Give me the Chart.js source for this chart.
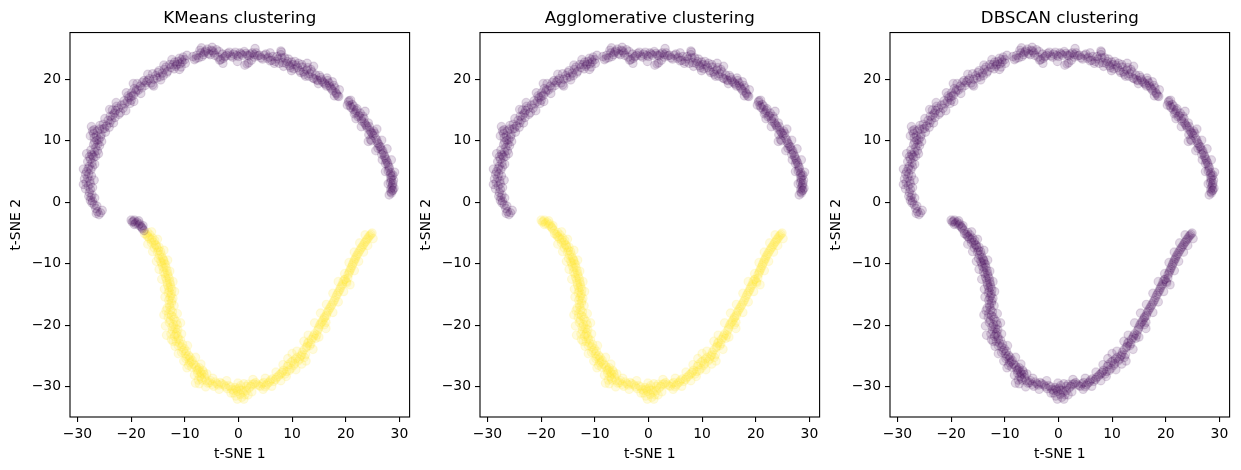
<!DOCTYPE html>
<html>
<head>
<meta charset="utf-8">
<script src="https://cdn.jsdelivr.net/npm/chart.js@4.4.0/dist/chart.umd.min.js"></script>
<style>
  body { margin: 0; background: #fff; }
  .panel { position: absolute; top: 0; }
</style>
</head>
<body>
<canvas id="kmeansChart" class="panel" width="415" height="470" style="left:0px"></canvas>
<canvas id="aggloChart" class="panel" width="415" height="470" style="left:410px"></canvas>
<canvas id="dbscanChart" class="panel" width="415" height="470" style="left:820px"></canvas>
<script>
// t-SNE embedding: upper arc, short bridge, lower arc
const upperX = [-26.0, -26.3, -26.6, -26.9, -27.2, -27.5, -27.3, -27.8, -27.6, -28.0,
  -28.4, -27.7, -28.1, -27.9, -28.3, -27.5, -27.8, -27.3, -27.6, -27.0,
  -27.4, -26.8, -26.6, -26.2, -26.8, -26.0, -26.5, -27.0, -26.9, -25.6,
  -25.3, -24.8, -24.6, -24.0, -23.7, -23.4, -23.0, -22.9, -22.4, -22.0,
  -21.8, -21.2, -20.7, -20.4, -20.0, -19.6, -19.2, -19.4, -18.7, -18.3,
  -17.9, -17.4, -16.9, -16.3, -15.8, -15.4, -15.0, -14.6, -14.2, -13.8,
  -13.2, -12.6, -12.2, -11.7, -11.3, -10.9, -10.6, -10.3, -10.7, -8.2,
  -7.8, -7.4, -7.0, -6.5, -6.1, -5.6, -5.1, -4.6, -4.1, -3.8,
  -3.3, -3.0, -2.5, -2.0, -1.4, -0.9, -0.3, 0.3, 0.8, 1.4,
  2.0, 2.6, 3.0, 1.9, 2.4, 3.6, 4.2, 4.8, 5.4, 5.9,
  6.4, 6.9, 7.4, 7.9, 8.3, 8.6, 9.1, 9.5, 9.9, 10.3,
  10.7, 11.2, 11.6, 11.9, 12.3, 12.7, 13.1, 13.5, 13.9, 14.4,
  14.8, 15.3, 15.7, 16.2, 16.6, 17.0, 17.4, 17.8, 18.2, 18.5,
  20.5, 20.8, 21.2, 21.4, 21.8, 22.1, 22.5, 22.9, 23.2, 23.5,
  23.9, 24.2, 24.5, 24.9, 25.2, 24.6, 25.6, 25.9, 26.3, 26.6,
  27.0, 27.3, 27.6, 27.9, 28.1, 28.4, 28.6, 28.5, 28.8, 28.6,
  28.7, 28.5,
  -25.7, -26.5, -26.4, -27.3, -26.8, -27.9, -27.2, -28.5, -27.6, -28.7,
  -27.4, -28.5, -28.0, -27.2, -28.1, -27.8, -27.2, -26.6, -27.5, -26.3,
  -27.0, -25.9, -26.4, -25.7, -26.9, -27.2, -26.3, -25.9, -25.0, -25.2,
  -24.3, -24.1, -23.9, -23.1, -23.5, -22.7, -22.3, -21.5, -21.3, -20.6,
  -20.2, -20.0, -19.9, -19.0, -18.9, -18.0, -17.6, -17.2, -16.6, -16.0,
  -16.0, -15.2, -14.8, -14.0, -13.5, -13.4, -12.8, -12.0, -11.9, -11.5,
  -11.0, -10.5, -10.0, -9.9, -8.5, -7.9, -7.2, -6.8, -6.3, -5.8,
  -5.3, -4.8, -4.4, -3.6, -3.5, -2.8, -2.2, -1.7, -1.1, -0.6,
  0.0, 0.5, 1.1, 1.7, 2.2, 1.6, 2.9, 3.3, 3.9, 4.5,
  5.1, 5.6, 6.2, 6.7, 7.2, 7.6, 8.1, 8.0, 8.9, 9.3,
  9.7, 10.1, 10.5, 11.0, 11.4, 11.8, 12.1, 12.5, 12.9, 13.3,
  13.7, 14.1, 14.6, 15.1, 15.5, 16.0, 16.4, 16.9, 17.2, 17.6,
  18.0, 18.3, 18.7, 20.3, 20.6, 21.0, 21.5, 21.6, 22.0, 22.3,
  22.7, 23.0, 23.4, 23.7, 24.0, 24.4, 24.7, 25.1, 25.4, 24.8,
  25.8, 26.1, 26.0, 26.5, 26.9, 26.7, 27.2, 27.5, 27.4, 27.8,
  28.1, 27.9, 28.3, 28.8, 28.4, 28.9, 28.3, 28.7, 28.4, 28.8,
  28.4,
  -25.4, -27.6, -28.9, -26.9, -28.9, -26.8, -28.3, -26.1, -25.5, -27.6,
  -27.4, -25.8, -24.9, -23.3, -24.0, -22.8, -21.0, -19.5, -20.9, -18.2,
  -19.6, -16.9, -15.8, -13.9, -14.5, -12.4, -11.0, -9.6, -6.9, -4.9,
  -2.9, -0.2, 1.2, 3.1, 5.9, 7.9, 8.4, 9.9, 12.8, 14.0,
  14.9, 16.5, 17.5, 18.8, 17.9, 20.9, 21.9, 23.6, 22.9, 24.3,
  25.8, 24.2, 26.7, 25.6, 27.7, 26.8, 28.5, 27.4, 29.1, 27.9,
  29.0, 28.1];
const upperY = [-2.0, -1.5, -1.0, -0.4, 0.2, 0.8, 1.2, 1.6, 2.1, 2.6,
  3.2, 3.5, 4.0, 4.6, 5.0, 5.3, 5.9, 6.4, 7.0, 7.3,
  7.8, 8.2, 8.9, 9.5, 9.8, 10.2, 10.8, 11.2, 11.8, 11.0,
  11.9, 11.4, 12.4, 12.9, 13.4, 14.2, 13.8, 14.9, 15.3, 14.6,
  15.8, 16.0, 16.4, 17.0, 16.6, 17.4, 17.9, 18.5, 18.2, 18.9,
  19.5, 19.0, 19.8, 19.4, 20.0, 20.6, 21.1, 20.4, 21.0, 21.6,
  21.3, 21.9, 22.4, 22.1, 22.9, 22.5, 23.2, 23.6, 22.0, 23.2,
  23.9, 23.5, 24.3, 24.0, 24.6, 24.2, 24.7, 24.3, 24.8, 23.6,
  23.2, 24.1, 23.7, 24.2, 23.8, 24.1, 23.9, 24.3, 23.9, 24.2,
  23.8, 24.3, 24.0, 22.7, 23.1, 23.8, 23.5, 23.9, 23.4, 23.0,
  23.7, 22.9, 23.3, 24.0, 22.7, 23.5, 22.9, 22.2, 22.8, 21.7,
  22.3, 22.6, 21.1, 22.0, 20.8, 21.5, 20.5, 21.6, 20.2, 20.7,
  19.8, 20.3, 19.6, 19.2, 19.8, 18.9, 18.4, 19.0, 17.8, 17.3,
  16.3, 15.7, 15.9, 15.1, 14.6, 15.2, 14.1, 13.6, 14.0, 12.9,
  12.4, 12.9, 11.7, 11.2, 11.6, 10.2, 10.4, 9.7, 9.1, 8.6,
  8.0, 7.3, 6.7, 6.0, 5.4, 4.8, 4.2, 3.6, 3.1, 2.5,
  1.9, 1.5,
  -1.7, -1.8, -0.6, -0.1, 0.7, 1.0, 2.4, 2.2, 3.0, 3.8,
  4.3, 4.6, 5.5, 5.8, 6.6, 7.4, 7.6, 7.5, 8.5, 8.4,
  9.4, 9.2, 10.1, 10.6, 10.5, 11.6, 11.6, 11.9, 12.0, 12.7,
  13.3, 12.2, 14.0, 14.5, 15.0, 15.6, 14.3, 15.3, 16.5, 17.3,
  16.1, 17.2, 17.8, 18.3, 19.3, 18.6, 19.8, 19.5, 20.1, 19.1,
  20.9, 20.2, 21.4, 20.6, 22.0, 21.0, 22.4, 21.7, 22.8, 22.4,
  23.4, 22.8, 23.2, 22.6, 23.7, 23.4, 24.7, 23.7, 24.4, 24.9,
  24.0, 24.6, 23.9, 24.5, 23.1, 23.4, 23.9, 24.4, 23.6, 24.4,
  23.7, 24.1, 24.5, 23.9, 24.1, 22.5, 23.6, 24.3, 23.9, 23.3,
  24.1, 23.6, 23.1, 22.6, 23.7, 22.6, 23.5, 24.4, 22.6, 23.3,
  21.9, 22.4, 22.9, 21.9, 21.4, 22.4, 21.2, 20.5, 21.9, 20.9,
  21.2, 20.1, 19.9, 20.6, 19.9, 19.4, 18.9, 19.4, 18.6, 18.1,
  18.6, 17.6, 17.2, 15.8, 16.5, 15.4, 15.6, 14.4, 14.9, 13.9,
  14.5, 13.2, 13.6, 12.6, 12.1, 12.3, 11.4, 10.9, 11.2, 10.0,
  10.1, 9.5, 8.8, 9.0, 8.4, 7.8, 7.6, 7.0, 6.3, 6.4,
  5.7, 5.1, 4.5, 4.4, 3.9, 3.6, 3.2, 2.8, 2.2, 2.0,
  1.7,
  -1.3, 0.3, 2.9, 3.6, 5.4, 6.2, 7.9, 7.9, 9.9, 10.8,
  12.3, 12.5, 13.6, 12.9, 15.1, 16.2, 14.9, 16.4, 17.8, 17.7,
  19.3, 20.8, 18.9, 22.3, 19.9, 23.2, 21.6, 23.9, 25.1, 25.2,
  22.6, 22.9, 22.3, 25.0, 24.3, 24.6, 22.1, 21.4, 22.6, 22.1,
  19.3, 20.2, 19.6, 18.3, 17.3, 16.6, 13.6, 14.8, 12.3, 11.0,
  11.9, 9.9, 10.1, 8.4, 8.7, 6.9, 6.9, 5.0, 4.9, 3.0,
  2.3, 1.2];

const bridgeX = [-20.0, -19.6, -19.2, -18.9, -18.6, -18.2, -17.9, -17.6, -19.8, -19.4, -18.4, -18.0, -17.8, -19.4, -18.6];
const bridgeY = [-2.9, -3.1, -3.4, -3.2, -3.7, -3.9, -4.3, -4.6, -3.2, -2.9, -3.5, -4.1, -3.8, -3.6, -3.0];

const lowerX = [-17.2, -16.8, -16.5, -16.2, -15.8, -15.5, -15.2, -14.9, -14.5, -14.7,
  -14.2, -13.9, -14.3, -13.6, -13.9, -13.3, -13.7, -13.1, -13.4, -12.8,
  -13.2, -12.6, -12.9, -12.5, -12.8, -12.4, -12.9, -13.3, -12.6, -13.0,
  -12.2, -12.7, -11.6, -12.1, -11.7, -12.3, -11.5, -11.9, -11.2, -12.2,
  -11.0, -10.6, -10.3, -9.9, -9.6, -9.2, -8.8, -9.3, -8.4, -7.9,
  -7.5, -7.1, -6.7, -6.4, -7.2, -6.8, -7.3, -6.0, -5.4, -4.9,
  -4.3, -3.7, -3.1, -2.4, -1.8, -1.2, -0.6, -0.9, -0.2, 0.3,
  0.1, 0.8, 1.2, 1.5, 1.0, 2.0, 2.6, 3.2, 3.8, 4.4,
  5.0, 5.5, 6.0, 6.6, 7.1, 7.7, 8.2, 8.7, 9.1, 9.5,
  9.8, 10.3, 10.6, 11.1, 11.6, 11.9, 12.3, 12.6, 12.9, 13.3,
  13.6, 14.0, 14.4, 14.7, 15.0, 15.4, 15.8, 16.1, 16.5, 16.3,
  16.9, 17.3, 17.7, 18.1, 18.5, 18.9, 19.2, 19.5, 19.9, 20.2,
  20.4, 20.7, 21.0, 21.3, 21.6, 21.9, 22.3, 22.7, 23.1, 23.5,
  23.9, 24.3, 24.7,
  -16.9, -17.0, -16.6, -16.0, -16.2, -15.6, -15.3, -15.7, -14.8, -15.1,
  -14.4, -14.9, -14.0, -14.5, -13.8, -14.2, -13.5, -14.0, -13.2, -13.6,
  -12.9, -13.3, -12.7, -13.0, -12.4, -13.1, -12.6, -12.2, -13.0, -12.5,
  -12.8, -13.5, -12.3, -13.1, -12.5, -12.0, -12.9, -11.4, -12.4, -11.3,
  -12.0, -12.6, -11.7, -11.3, -12.5, -11.6, -10.8, -11.2, -10.4, -10.1,
  -10.6, -9.7, -9.3, -9.8, -9.0, -8.6, -9.1, -8.1, -8.7, -7.7,
  -7.3, -6.9, -7.6, -6.5, -6.9, -7.5, -6.3, -5.7, -5.2, -4.6,
  -4.0, -3.4, -2.7, -2.1, -1.5, -0.9, -0.4, -0.5, 0.4, 0.6,
  0.9, 1.5, 0.4, 1.8, 2.3, 2.9, 3.5, 4.1, 4.7, 5.2,
  5.8, 6.3, 6.9, 7.4, 8.0, 8.4, 9.0, 9.3, 9.8, 10.1,
  10.5, 10.9, 11.4, 11.8, 12.2, 12.5, 12.8, 13.1, 13.5, 13.9,
  14.2, 14.6, 14.9, 15.2, 15.6, 16.0, 16.4, 16.0, 16.7, 17.1,
  17.5, 17.9, 18.3, 18.7, 19.0, 19.4, 19.7, 20.1, 20.4, 20.6,
  20.9, 21.2, 21.5, 21.8, 22.1, 22.5, 22.9, 23.3, 23.7, 24.1,
  24.5, 24.9,
  -17.5, -16.2, -16.9, -15.1, -16.0, -13.9, -15.3, -13.2, -14.8, -12.8,
  -14.3, -12.2, -13.8, -11.9, -13.7, -12.0, -13.9, -11.4, -13.6, -10.8,
  -13.4, -11.8, -10.6, -11.2, -9.5, -10.2, -8.0, -9.6, -7.0, -8.2,
  -5.9, -8.0, -6.1, -4.8, -3.6, -2.2, -1.4, -0.1, -0.2, 1.0,
  1.8, 2.5, 2.7, 4.6, 5.0, 6.2, 7.0, 7.9, 8.3, 8.9,
  9.2, 10.0, 10.7, 11.8, 10.9, 12.6, 12.2, 13.9, 13.0, 15.0,
  14.2, 16.3, 15.3, 17.6, 16.4, 18.6, 17.6, 19.6, 18.6, 20.8,
  19.8, 21.6, 20.6, 22.4, 21.6, 23.3, 22.6, 24.1, 23.6, 25.1];
const lowerY = [-5.2, -5.6, -5.3, -6.1, -6.5, -6.9, -7.3, -7.8, -8.0, -8.6,
  -9.0, -9.5, -9.9, -10.1, -10.7, -11.1, -11.6, -12.0, -12.6, -12.9,
  -13.5, -13.8, -14.4, -14.9, -15.5, -16.0, -16.6, -17.2, -17.5, -18.1,
  -18.6, -19.2, -19.4, -19.9, -20.5, -20.9, -21.2, -21.8, -22.2, -22.6,
  -22.9, -23.5, -24.1, -24.6, -25.1, -25.5, -25.9, -26.5, -26.3, -26.8,
  -27.2, -27.6, -27.3, -28.0, -28.3, -28.9, -29.5, -29.0, -29.3, -29.6,
  -29.2, -29.7, -29.5, -30.0, -29.8, -30.4, -30.1, -31.0, -30.7, -31.2,
  -30.2, -30.6, -31.3, -29.9, -29.5, -30.2, -29.6, -29.3, -29.8, -29.5,
  -30.0, -29.4, -28.9, -29.1, -28.5, -28.0, -27.6, -27.9, -26.7, -27.3,
  -26.0, -26.5, -25.5, -25.8, -25.0, -24.4, -25.2, -23.6, -22.9, -23.3,
  -22.3, -21.7, -22.1, -20.9, -20.3, -19.6, -19.1, -18.6, -18.0, -19.5,
  -17.4, -16.8, -16.2, -15.5, -14.8, -14.2, -13.6, -12.9, -12.5, -13.1,
  -11.8, -11.2, -10.6, -10.0, -9.4, -8.9, -8.3, -7.7, -7.2, -6.6,
  -6.1, -5.6, -5.2,
  -4.9, -5.5, -5.9, -5.8, -6.6, -6.2, -7.0, -7.4, -7.3, -8.1,
  -8.5, -9.1, -9.3, -9.6, -9.9, -10.4, -10.6, -11.3, -11.6, -12.2,
  -12.4, -13.1, -13.3, -13.9, -14.2, -14.7, -15.2, -15.6, -15.9, -16.4,
  -17.0, -17.6, -17.8, -18.7, -18.4, -19.0, -19.5, -19.9, -20.2, -20.7,
  -20.6, -21.4, -21.5, -21.8, -22.3, -22.6, -22.4, -23.3, -23.1, -23.8,
  -24.4, -24.2, -24.9, -25.4, -25.2, -25.7, -26.1, -26.5, -26.8, -27.3,
  -26.9, -27.9, -27.8, -27.6, -28.6, -28.9, -28.5, -29.4, -29.0, -29.9,
  -29.5, -29.3, -29.7, -30.3, -30.0, -30.6, -30.4, -31.5, -30.5, -31.7,
  -30.9, -30.6, -29.8, -29.6, -29.9, -29.5, -29.6, -29.9, -29.3, -29.7,
  -29.2, -28.7, -28.8, -28.3, -27.8, -27.3, -27.5, -26.4, -27.0, -25.8,
  -26.2, -25.2, -25.5, -24.8, -24.0, -24.8, -23.4, -22.7, -23.0, -22.0,
  -21.4, -21.6, -20.6, -19.9, -19.4, -18.8, -18.4, -19.9, -17.7, -17.1,
  -16.5, -15.9, -15.1, -14.5, -13.9, -13.3, -12.6, -12.9, -12.3, -11.5,
  -10.9, -10.3, -9.7, -9.2, -8.6, -8.0, -7.4, -6.9, -6.4, -5.9,
  -5.4, -5.0,
  -5.1, -4.8, -6.8, -6.0, -8.0, -7.8, -9.6, -9.4, -10.9, -11.2,
  -12.5, -12.9, -14.1, -14.5, -15.4, -16.8, -18.3, -18.1, -20.1, -19.6,
  -21.6, -23.4, -21.4, -24.6, -23.3, -25.8, -25.2, -26.9, -26.3, -28.1,
  -27.9, -29.4, -30.0, -28.6, -30.4, -29.0, -31.0, -29.4, -32.0, -32.0,
  -31.3, -30.8, -28.8, -30.4, -28.6, -29.9, -27.6, -29.0, -26.4, -28.3,
  -25.4, -24.6, -27.2, -26.3, -24.2, -25.8, -22.6, -23.9, -21.6, -21.9,
  -19.6, -20.5, -18.0, -17.9, -16.6, -16.2, -14.8, -14.5, -12.9, -13.4,
  -11.6, -11.1, -9.8, -9.6, -8.1, -8.1, -6.6, -7.0, -5.3, -5.9];

// cluster id of each segment (upper, bridge, lower) for each method
const kmeansLabels = [0, 0, 1];
const aggloLabels = [0, 1, 1];
const dbscanLabels = [0, 0, 0];

const xTicks = [-30, -20, -10, 0, 10, 20, 30];
const yTicks = [-30, -20, -10, 0, 10, 20];

const clusterColors = ['rgba(68, 1, 84, 0.15)', 'rgba(253, 231, 37, 0.15)'];
const segments = [[upperX, upperY], [bridgeX, bridgeY], [lowerX, lowerY]];
const FONT = 'DejaVu Sans';

function pointsFor(labels, cluster) {
    const pts = [];
    segments.forEach(([xs, ys], s) => {
        if (labels[s] !== cluster) return;
        xs.forEach((x, i) => pts.push({ x: x, y: ys[i] }));
    });
    return pts;
}

const minus = v => String(v).replace('-', '\u2212');

// matplotlib-style box round the plot area
const framePlugin = {
    id: 'frame',
    afterDatasetsDraw(chart) {
        const { ctx, chartArea: a } = chart;
        ctx.save();
        ctx.strokeStyle = '#000';
        ctx.lineWidth = 1.1;
        ctx.strokeRect(a.left, a.top, a.right - a.left, a.bottom - a.top);
        ctx.restore();
    }
};

function axisOpts(ticks, min, max, title, fit) {
    return {
        type: 'linear',
        min: min,
        max: max,
        afterBuildTicks: s => { s.ticks = ticks.map(v => ({ value: v })); },
        afterFit: fit,
        border: { display: false },
        grid: { drawOnChartArea: false, drawTicks: true, tickLength: 5, color: '#000', lineWidth: 1.1 },
        ticks: { color: '#000', padding: 4, maxRotation: 0, font: { family: FONT, size: 13.9 }, callback: v => minus(v) },
        title: { display: true, text: title, color: '#000', font: { family: FONT, size: 13.9 }, padding: { top: 8, bottom: 7.6 } }
    };
}

function makeChart(id, title, labels) {
    const ctx = document.getElementById(id).getContext('2d');
    new Chart(ctx, {
        type: 'scatter',
        data: {
            datasets: [0, 1].map(c => ({
                data: pointsFor(labels, c),
                backgroundColor: clusterColors[c],
                borderColor: clusterColors[c],
                borderWidth: 1.2,
                pointRadius: 4.2
            }))
        },
        options: {
            responsive: false,
            animation: false,
            layout: { padding: { left: 0, right: 4, top: 0, bottom: 0 } },
            plugins: {
                legend: { display: false },
                tooltip: { enabled: false },
                title: {
                    display: true,
                    fullSize: false,
                    text: title,
                    color: '#000',
                    font: { family: FONT, size: 16.7, weight: 'normal' },
                    padding: { top: 9, bottom: 3.5 }
                }
            },
            scales: {
                x: axisOpts(xTicks, -31.4, 31.9, 't-SNE 1', s => { s.height = 53; }),
                y: axisOpts(yTicks, -34.9, 27.6, 't-SNE 2', s => { s.width = 70; })
            }
        },
        plugins: [framePlugin]
    });
}

makeChart('kmeansChart', 'KMeans clustering', kmeansLabels);
makeChart('aggloChart', 'Agglomerative clustering', aggloLabels);
makeChart('dbscanChart', 'DBSCAN clustering', dbscanLabels);
</script>
</body>
</html>
